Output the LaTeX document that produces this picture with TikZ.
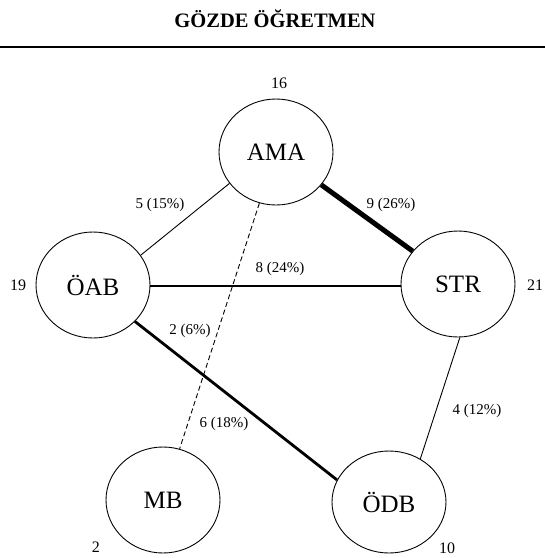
\documentclass[tikz,border=0pt]{standalone}
\usepackage{fontspec}
\setmainfont{Liberation Serif}
\usetikzlibrary{shapes.geometric}
\begin{document}
\begin{tikzpicture}[x=1pt,y=-1pt,
  ell/.style={draw, ellipse, line width=0.9pt, inner sep=0pt, minimum width=114pt, minimum height=106pt, font=\fontsize{25}{30}\selectfont},
  cnt/.style={font=\fontsize{16}{19}\selectfont},
  elab/.style={font=\fontsize{15}{18}\selectfont},
  thin/.style={line width=0.9pt},
  mid/.style={line width=2.8pt},
  heavy/.style={line width=5pt},
  dsh/.style={line width=0.9pt, dash pattern=on 5pt off 3pt}]
\useasboundingbox (0,0) rectangle (545,558);
\node[font=\bfseries\fontsize{20.5}{24}\selectfont] (title) at (275,19) {GÖZDE ÖĞRETMEN};
\coordinate (rl) at (0,47);
\coordinate (rr) at (545,47);
\draw[line width=1.8pt] (rl) -- (rr);

\node[ell] (AMA) at (276,152) {AMA};
\node[ell] (OAB) at (93,285) {ÖAB};
\node[ell] (STR) at (458,284) {STR};
\node[ell] (MB) at (163,500) {MB};
\node[ell, minimum height=102pt] (ODB) at (389,502) {ÖDB};

\node[cnt] (n16) at (279,83) {16};
\node[cnt] (n19) at (18,285) {19};
\node[cnt] (n21) at (535,285) {21};
\node[cnt] (n2) at (96,547) {2};
\node[cnt] (n10) at (447,548) {10};

\draw[thin] (AMA.214) -- (OAB.32);
\draw[heavy] (AMA) -- (STR);
\draw[mid] (OAB.east |- 0,286) -- (STR.west |- 0,286);
\draw[dsh] (AMA.252) -- (MB.72);
\draw[mid] (OAB.-41) -- (ODB.157);
\draw[thin] (STR.-88) -- (ODB.54);

\node[elab] (l1) at (160,205) {5 (15\%)};
\node[elab] (l2) at (391,205) {9 (26\%)};
\node[elab] (l3) at (280,269) {8 (24\%)};
\node[elab] (l4) at (190,331) {2 (6\%)};
\node[elab] (l5) at (224,424) {6 (18\%)};
\node[elab] (l6) at (477,411) {4 (12\%)};
\end{tikzpicture}
\end{document}
